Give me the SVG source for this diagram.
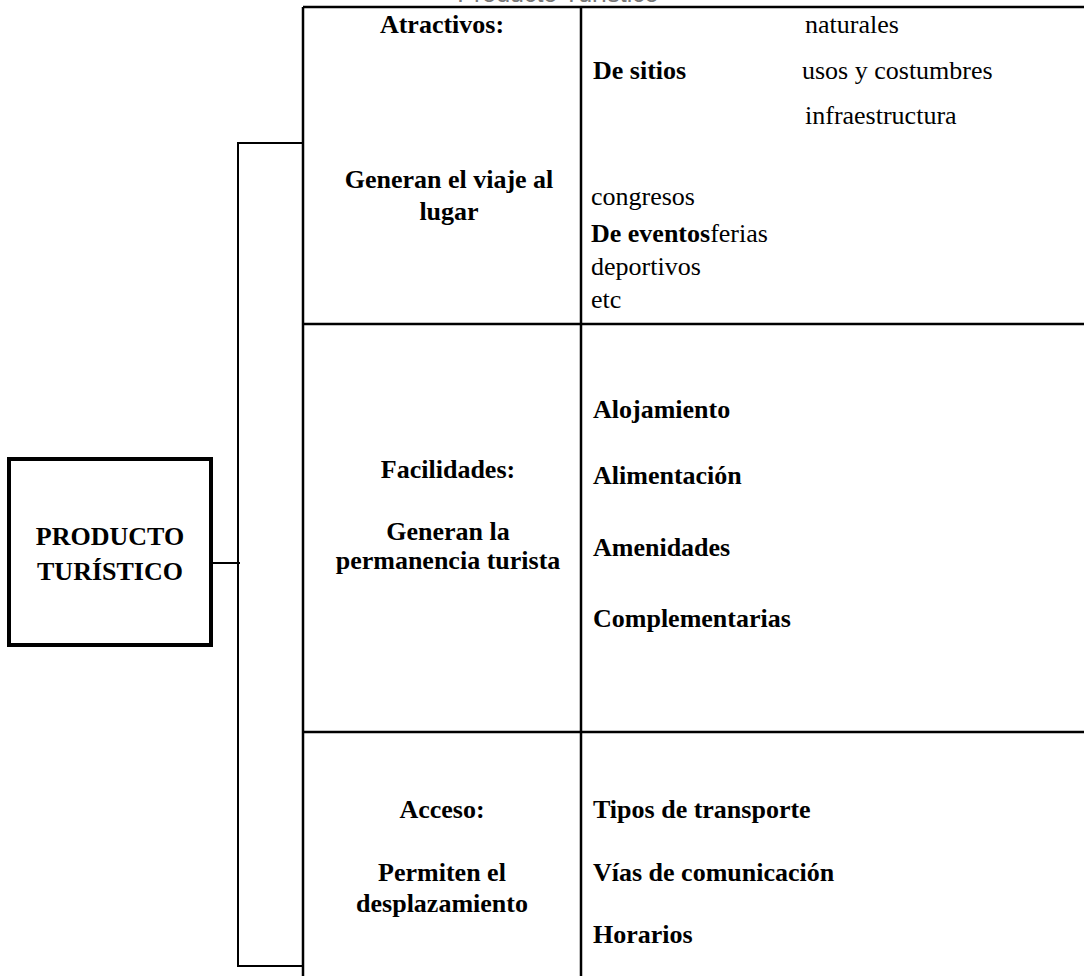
<svg xmlns="http://www.w3.org/2000/svg" width="1084" height="976" viewBox="0 0 1084 976">
<style>
text{font-family:"Liberation Serif","Times New Roman",serif;font-size:26px;fill:#000}
.b{font-weight:bold}
.c{text-anchor:middle}
.ln{stroke:#000;stroke-width:2.5;fill:none}
.cn{stroke:#000;stroke-width:2;fill:none}
.cap{font-family:"Liberation Sans",Arial,sans-serif;font-size:25px;fill:#777}
</style>
<rect width="1084" height="976" fill="#fff"/>
<text class="cap c" x="558" y="2">Producto Turístico</text>
<g id="connectors">
<path class="cn" d="M303 143 H238 V966 H303"/>
<path class="cn" d="M213 563 H240" stroke-width="1.5"/>
</g>
<g id="producto">
<rect x="9" y="459" width="202" height="186" fill="#fff" stroke="#000" stroke-width="4"/>
<text class="b c" x="110" y="545">PRODUCTO</text>
<text class="b c" x="110" y="580">TURÍSTICO</text>
</g>
<g id="table">
<path class="ln" d="M303 7 H1084 M303 7 V976 M581 7 V976 M303 324 H1084 M303 732 H1084"/>
</g>
<g id="atractivos">
<text class="b c" x="442" y="33">Atractivos:</text>
<text class="b c" x="449" y="188">Generan el viaje al</text>
<text class="b c" x="449" y="220">lugar</text>
</g>
<g id="atractivos-detalle">
<text x="805" y="33">naturales</text>
<text class="b" x="593" y="79">De sitios</text>
<text x="802" y="79">usos y costumbres</text>
<text x="805" y="124">infraestructura</text>
<text x="591" y="205">congresos</text>
<text x="591" y="242"><tspan class="b">De eventos</tspan>ferias</text>
<text x="591" y="275">deportivos</text>
<text x="591" y="308">etc</text>
</g>
<g id="facilidades">
<text class="b c" x="448" y="478">Facilidades:</text>
<text class="b c" x="448" y="540">Generan la</text>
<text class="b c" x="448" y="569">permanencia turista</text>
</g>
<g id="facilidades-detalle">
<text class="b" x="593" y="418">Alojamiento</text>
<text class="b" x="593" y="484">Alimentación</text>
<text class="b" x="593" y="556">Amenidades</text>
<text class="b" x="593" y="627">Complementarias</text>
</g>
<g id="acceso">
<text class="b c" x="442" y="818">Acceso:</text>
<text class="b c" x="442" y="881">Permiten el</text>
<text class="b c" x="442" y="912">desplazamiento</text>
</g>
<g id="acceso-detalle">
<text class="b" x="593" y="818">Tipos de transporte</text>
<text class="b" x="593" y="881">Vías de comunicación</text>
<text class="b" x="593" y="943">Horarios</text>
</g>
</svg>
